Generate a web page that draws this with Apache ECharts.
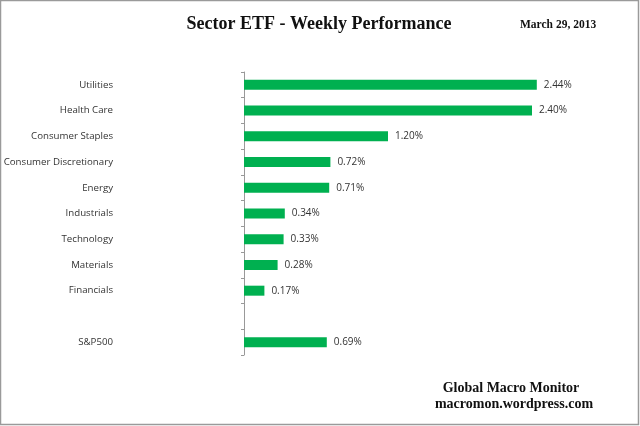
<!DOCTYPE html>
<html>
<head>
<meta charset="utf-8">
<title>Sector ETF - Weekly Performance</title>
<script src="https://cdn.jsdelivr.net/npm/echarts@6/dist/echarts.min.js"></script>
<style>
    html, body { margin: 0; padding: 0; background: #fff; }
    #chart { width: 640px; height: 426px; }
</style>
</head>
<body>
<div id="chart"></div>
<script>
// sectors top to bottom, blank slot before S&P500
var sectors = ['Utilities', 'Health Care', 'Consumer Staples', 'Consumer Discretionary', 'Energy',
    'Industrials', 'Technology', 'Materials', 'Financials', '', 'S&P500'];
var weeklyPct = [2.44, 2.40, 1.20, 0.72, 0.71, 0.34, 0.33, 0.28, 0.17, null, 0.69];

var chart = echarts.init(document.getElementById('chart'));

var option = {
    animation: false,
    backgroundColor: '#fff',
    grid: { left: 244, top: 72, width: 360, height: 283, containLabel: false, outerBoundsMode: 'none' },
    title: [
        {
            text: 'Sector ETF - Weekly Performance',
            left: 314, top: 10, textAlign: 'center',
            textStyle: { fontFamily: 'Liberation Serif', fontWeight: 'bold', fontSize: 18, color: '#111' }
        },
        {
            text: 'March 29, 2013',
            left: 515, top: 14,
            textStyle: { fontFamily: 'Liberation Serif', fontWeight: 'bold', fontSize: 11.5, color: '#111' }
        },
        {
            text: 'Global Macro Monitor',
            left: 506, top: 376, textAlign: 'center',
            textStyle: { fontFamily: 'Liberation Serif', fontWeight: 'bold', fontSize: 14, color: '#111' }
        },
        {
            text: 'macromon.wordpress.com',
            left: 509, top: 392, textAlign: 'center',
            textStyle: { fontFamily: 'Liberation Serif', fontWeight: 'bold', fontSize: 14, color: '#111' }
        }
    ],
    xAxis: {
        type: 'value', min: 0, max: 3,
        show: false
    },
    yAxis: {
        type: 'category',
        data: sectors,
        inverse: true,
        axisLine: { show: true, lineStyle: { color: '#999', width: 1 } },
        axisTick: { show: true, length: 3, lineStyle: { color: '#999' } },
        axisLabel: { margin: 131, fontFamily: 'Open Sans', fontSize: 9.7, color: '#333' },
        splitLine: { show: false }
    },
    series: [{
        type: 'bar',
        data: weeklyPct,
        barWidth: 10,
        itemStyle: { color: '#00b050' },
        label: {
            show: true, position: 'right', distance: 7,
            fontFamily: 'Open Sans', fontSize: 10, color: '#333',
            formatter: function (p) { return p.value == null ? '' : p.value.toFixed(2) + '%'; }
        }
    }],
    graphic: [{
        type: 'rect',
        shape: { x: 0.5, y: 0.5, width: 638, height: 424 },
        style: { fill: null, stroke: '#9a9a9a', lineWidth: 1.5 },
        silent: true
    }]
};

chart.setOption(option);
</script>
</body>
</html>
